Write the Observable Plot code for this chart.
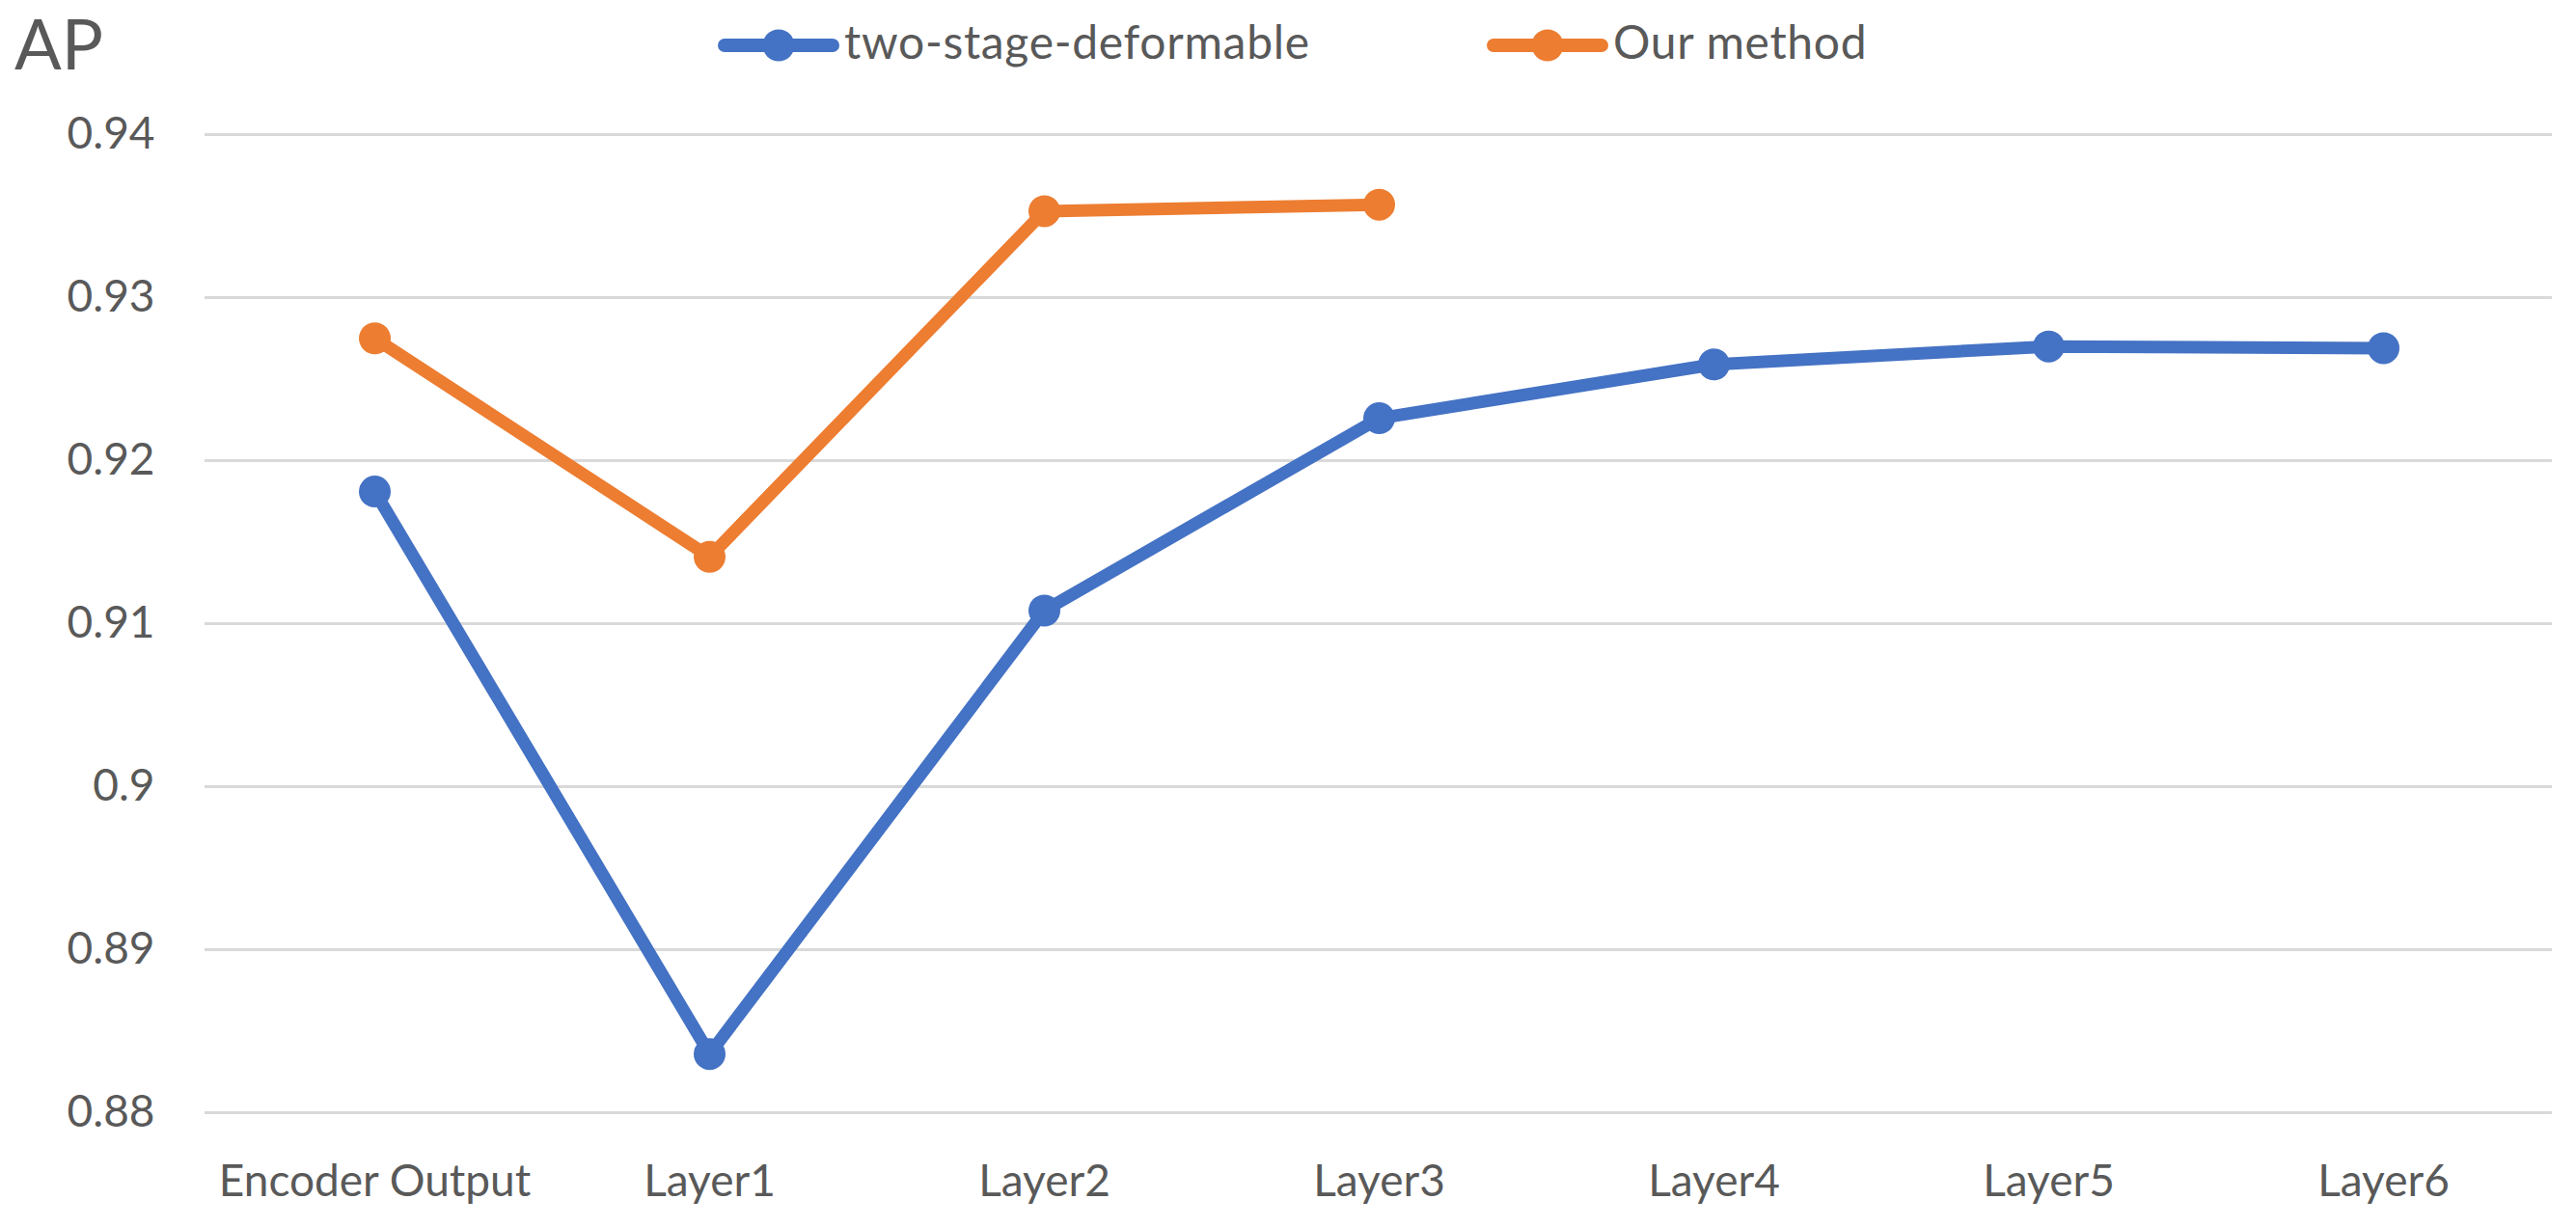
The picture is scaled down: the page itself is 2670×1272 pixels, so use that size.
<!DOCTYPE html>
<html>
<head>
<meta charset="utf-8">
<script src="https://cdn.jsdelivr.net/npm/d3@7"></script>
<script src="https://cdn.jsdelivr.net/npm/@observablehq/plot@0.6"></script>
<style>
  html, body { margin: 0; padding: 0; background: #fff; }
  #page { position: relative; width: 2670px; height: 1272px; font-family: Lato, "Open Sans", sans-serif; color: #595959; overflow: hidden; }
  #header { position: relative; width: 2670px; height: 100px; }
  .ap { position: absolute; left: 15px; top: 1px; font-size: 72px; line-height: 1.2; }
  .leg-swatch { position: absolute; top: 27px; }
  .leg-text { position: absolute; top: 19px; font-size: 48px; line-height: 1; letter-spacing: 0.7px; white-space: nowrap; }
</style>
</head>
<body>
<div id="page">
  <div id="header"></div>
  <div id="chart"></div>
</div>
<script>
const categories = ["Encoder Output", "Layer1", "Layer2", "Layer3", "Layer4", "Layer5", "Layer6"];
const twoStageDeformable = [0.9181, 0.8836, 0.9108, 0.9226, 0.9259, 0.9270, 0.9269];
const ourMethod = [0.9275, 0.9141, 0.9353, 0.9357];
const yTicks = [0.88, 0.89, 0.90, 0.91, 0.92, 0.93, 0.94];
const yTickLabels = ["0.88", "0.89", "0.9", "0.91", "0.92", "0.93", "0.94"];
const seriesNames = ["two-stage-deformable", "Our method"];
const seriesColors = ["#4472C4", "#ED7D31"];
const yTitle = "AP";

const rows = [
  ...twoStageDeformable.map((v, i) => ({cat: categories[i], value: v, series: seriesNames[0]})),
  ...ourMethod.map((v, i) => ({cat: categories[i], value: v, series: seriesNames[1]}))
];
const labelOf = new Map(yTicks.map((t, i) => [t, yTickLabels[i]]));

// Header: y title + legend
const header = document.getElementById("header");
const ap = document.createElement("div");
ap.className = "ap";
ap.textContent = yTitle;
header.appendChild(ap);

const legendLeft = [744, 1541];
seriesNames.forEach((name, i) => {
  const ns = "http://www.w3.org/2000/svg";
  const svg = document.createElementNS(ns, "svg");
  svg.setAttribute("width", 126);
  svg.setAttribute("height", 40);
  svg.setAttribute("class", "leg-swatch");
  svg.style.left = legendLeft[i] + "px";
  const line = document.createElementNS(ns, "line");
  line.setAttribute("x1", 7); line.setAttribute("x2", 119);
  line.setAttribute("y1", 20); line.setAttribute("y2", 20);
  line.setAttribute("stroke", seriesColors[i]);
  line.setAttribute("stroke-width", 14);
  line.setAttribute("stroke-linecap", "round");
  svg.appendChild(line);
  const c = document.createElementNS(ns, "circle");
  c.setAttribute("cx", 63); c.setAttribute("cy", 20); c.setAttribute("r", 16.5);
  c.setAttribute("fill", seriesColors[i]);
  svg.appendChild(c);
  header.appendChild(svg);
  const t = document.createElement("div");
  t.className = "leg-text";
  t.style.left = (legendLeft[i] + 131) + "px";
  t.textContent = name;
  header.appendChild(t);
});

const chart = Plot.plot({
  width: 2670,
  height: 1172,
  marginLeft: 212,
  marginRight: 25,
  marginTop: 39,
  marginBottom: 119,
  style: {fontFamily: "Lato, 'Open Sans', sans-serif", background: "white", color: "#595959"},
  x: {type: "point", domain: categories, padding: 0.5, align: 0.5},
  y: {domain: [0.88, 0.94]},
  color: {domain: seriesNames, range: seriesColors},
  marks: [
    Plot.ruleY(yTicks, {stroke: "#D9D9D9", strokeWidth: 3}),
    Plot.axisY(yTicks, {tickSize: 0, tickPadding: 52, fontSize: 46, color: "#595959", tickFormat: d => labelOf.get(d), label: null}),
    Plot.axisX({tickSize: 0, tickPadding: 54, fontSize: 46, color: "#595959", label: null}),
    Plot.line(rows, {x: "cat", y: "value", z: "series", stroke: "series", strokeWidth: 13, strokeLinejoin: "round", strokeLinecap: "round"}),
    Plot.dot(rows, {x: "cat", y: "value", fill: "series", r: 16.5})
  ]
});
document.getElementById("chart").appendChild(chart);
</script>
</body>
</html>
